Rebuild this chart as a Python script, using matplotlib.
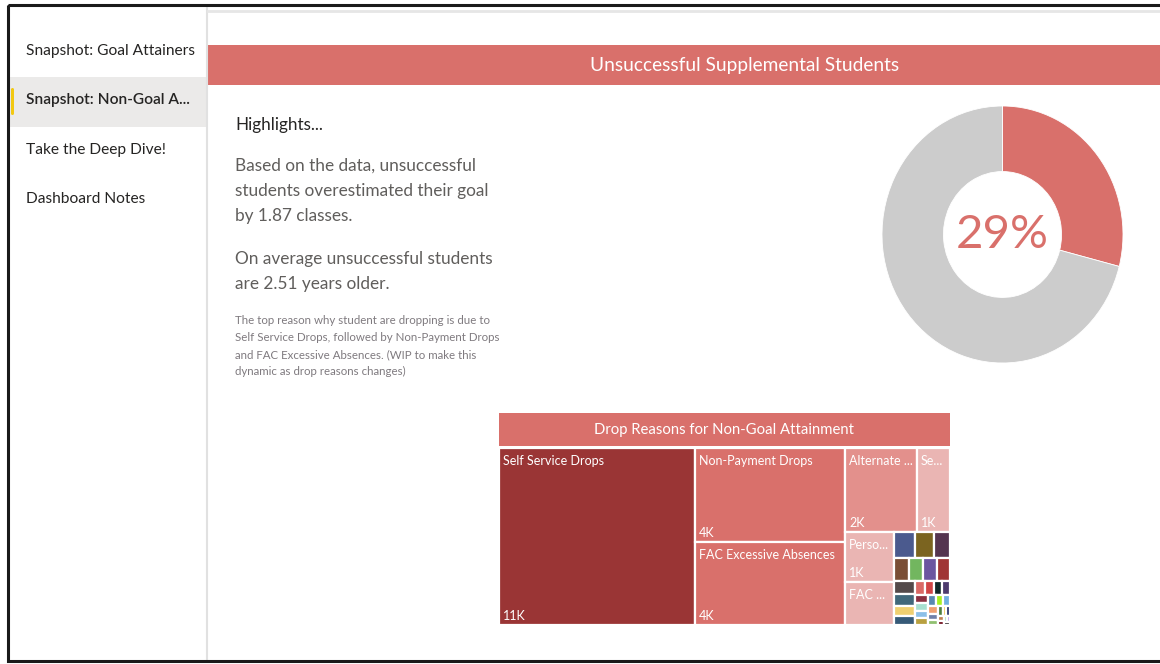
# Power BI style page: "Unsuccessful Supplemental Students"
import matplotlib.pyplot as plt
from matplotlib.patches import Rectangle, FancyBboxPatch

# Navigation pages (left pane)
pages = ['Snapshot: Goal Attainers', 'Snapshot: Non-Goal A...', 'Take the Deep Dive!', 'Dashboard Notes']
active_page = 1

title = 'Unsuccessful Supplemental Students'
highlight_head = 'Highlights...'
highlight_1 = ['Based on the data, unsuccessful', 'students overestimated their goal', 'by 1.87 classes.']
highlight_2 = ['On average unsuccessful students', 'are 2.51 years older.']
note_lines = ['The top reason why student are dropping is due to',
              'Self Service Drops, followed by Non-Payment Drops',
              'and FAC Excessive Absences. (WIP to make this',
              'dynamic as drop reasons changes)']

# Donut: share of unsuccessful students
unsuccessful_share = 0.29

# Treemap: drop reasons
treemap_title = 'Drop Reasons for Non-Goal Attainment'
reasons = ['Self Service Drops', 'Non-Payment Drops', 'FAC Excessive Absences',
           'Alternate Schedule', 'Section Cancelled', 'Personal Reasons', 'FAC Never Attended']
reason_counts = [10600, 4290, 3820, 1850, 845, 756, 648]
reason_colors = ['#9A3535', '#D9706B', '#D9706B', '#E3908C', '#EAB5B3', '#EAB5B3', '#EAB5B3']
# many small reasons (unlabelled in the treemap)
minor_counts = [163, 146, 129, 105, 100, 98, 96, 80, 70, 63, 57, 43, 38, 36, 34, 32, 32,
                30, 27, 27, 25, 23, 21, 18, 16, 14, 11, 10, 9, 8, 7, 6, 5]
minor_colors = ['#4B5A8E', '#7B6420', '#553550', '#7A4E35', '#72B65F', '#6B55A0', '#A03535',
                '#544A4A', '#41687A', '#F0D070', '#365A78', '#DA6A66', '#D04545', '#102828',
                '#4D3B6D', '#8A3040', '#A8E0D0', '#8CC0E8', '#B8A040', '#5888B0', '#A8F020',
                '#70B0E0', '#F0A070', '#7080A8', '#90C070', '#508040', '#F0C040', '#303870',
                '#C08050', '#701020', '#A0E0C0', '#C0A0F0', '#303030']

RED = '#D9706B'
FONT = ['Lato', 'DejaVu Sans']


def squarify(values, x0, y0, x1, y1, ratio=(1 + 5 ** 0.5) / 2):
    # squarified treemap, same rule as d3.treemapSquarify
    rects = []
    n = len(values)
    total = float(sum(values))
    i0 = 0
    while i0 < n:
        dx, dy = x1 - x0, y1 - y0
        s = values[i0]
        i1 = i0 + 1
        vmin = vmax = s
        alpha = max(dy / dx, dx / dy) / (total * ratio)
        beta = s * s * alpha
        best = max(vmax / beta, beta / vmin)
        while i1 < n:
            v = values[i1]
            beta = (s + v) ** 2 * alpha
            new = max(max(vmax, v) / beta, beta / min(vmin, v))
            if new > best:
                break
            s += v
            vmin, vmax, best = min(vmin, v), max(vmax, v), new
            i1 += 1
        row = values[i0:i1]
        last = i1 >= n
        if dx < dy:
            h = dy if last else dy * s / total
            xx = x0
            for v in row:
                w = dx * v / s
                rects.append((xx, y0, w, h))
                xx += w
            y0 += h
        else:
            w = dx if last else dx * s / total
            yy = y0
            for v in row:
                h = dy * v / s
                rects.append((x0, yy, w, h))
                yy += h
            x0 += w
        total -= s
        i0 = i1
    return rects


fig = plt.figure(figsize=(11.6, 6.64), dpi=100)
ax = fig.add_axes([0, 0, 1, 1])
ax.set_xlim(0, 1160)
ax.set_ylim(664, 0)
ax.axis('off')
renderer = fig.canvas.get_renderer()

# frame and panes
ax.add_patch(Rectangle((8, 5), 1170, 656, fill=False, edgecolor='#1a1a1a', lw=2.2, zorder=5))
ax.plot([207, 207], [6, 660], color='#E1E1E1', lw=1.5)
ax.plot([208, 1160], [10.5, 10.5], color='#E6E6E6', lw=2)

# left navigation
page_y = [51, 100, 150, 199]
for i, (p, y) in enumerate(zip(pages, page_y)):
    if i == active_page:
        ax.add_patch(Rectangle((9, y - 23), 197, 50, color='#EBEAE9', lw=0))
        ax.add_patch(FancyBboxPatch((11, y - 12), 3, 27, boxstyle='round,pad=0,rounding_size=1.5',
                                    color='#F2C811', lw=0))
    ax.text(26, y, p, fontsize=11.2, family=FONT, color='#252423', va='center',
            fontweight='semibold' if i == active_page else 'normal')

# title banner
ax.add_patch(Rectangle((208, 45), 960, 40, color=RED, lw=0))
ax.text(745, 66, title, fontsize=13.8, family=FONT, color='white', ha='center', va='center')

# highlights text
ax.text(235, 125, highlight_head, fontsize=12.3, family=FONT, color='#252423', va='center')
for k, line in enumerate(highlight_1):
    ax.text(235, 166 + 25 * k, line, fontsize=12.4, family=FONT, color='#605E5C', va='center')
for k, line in enumerate(highlight_2):
    ax.text(235, 259 + 25 * k, line, fontsize=12.4, family=FONT, color='#605E5C', va='center')
for k, line in enumerate(note_lines):
    ax.text(235, 321 + 16.7 * k, line, fontsize=8.3, family=FONT, color='#7F7A7F', va='center')

# donut
dax = fig.add_axes([882 / 1160, 1 - 363 / 664, 241 / 1160, 257 / 664])
dax.pie([unsuccessful_share, 1 - unsuccessful_share], colors=[RED, '#CCCCCC'], startangle=90,
        counterclock=False, radius=1, wedgeprops=dict(width=0.51, edgecolor='white', lw=0.6))
dax.set_aspect('auto')
dax.set_xlim(-1, 1)
dax.set_ylim(-1, 1)
dax.axis('off')
dax.text(0, 0, f'{unsuccessful_share:.0%}', fontsize=34, family=FONT,
         color=RED, ha='center', va='center')

# treemap header
ax.add_patch(Rectangle((499, 413), 451, 33, color=RED, lw=0))
ax.text(724.5, 430, treemap_title, fontsize=10.7, family=FONT, color='white', ha='center', va='center')

# treemap cells
values = reason_counts + minor_counts
colors = reason_colors + minor_colors
rects = squarify(values, 499, 448, 950, 625)
for idx, ((x, y, w, h), c) in enumerate(zip(rects, colors)):
    ax.add_patch(Rectangle((x, y), w, h, facecolor=c, edgecolor='white', lw=1.6))
    if idx >= len(reasons) or w < 28 or h < 28:
        continue
    name = reasons[idx]
    t = ax.text(x + 4, y + 13, name, fontsize=9, family=FONT, color='white', va='center')
    k = len(name)
    while t.get_window_extent(renderer).width > w - 6 and k > 1:
        k -= 1
        t.set_text(name[:k] + '...')
    if h >= 45:
        ax.text(x + 4, y + h - 9, f'{round(values[idx] / 1000)}K', fontsize=9, family=FONT,
                color='white', va='center')

fig.savefig('out.png', dpi=100, facecolor='white')
